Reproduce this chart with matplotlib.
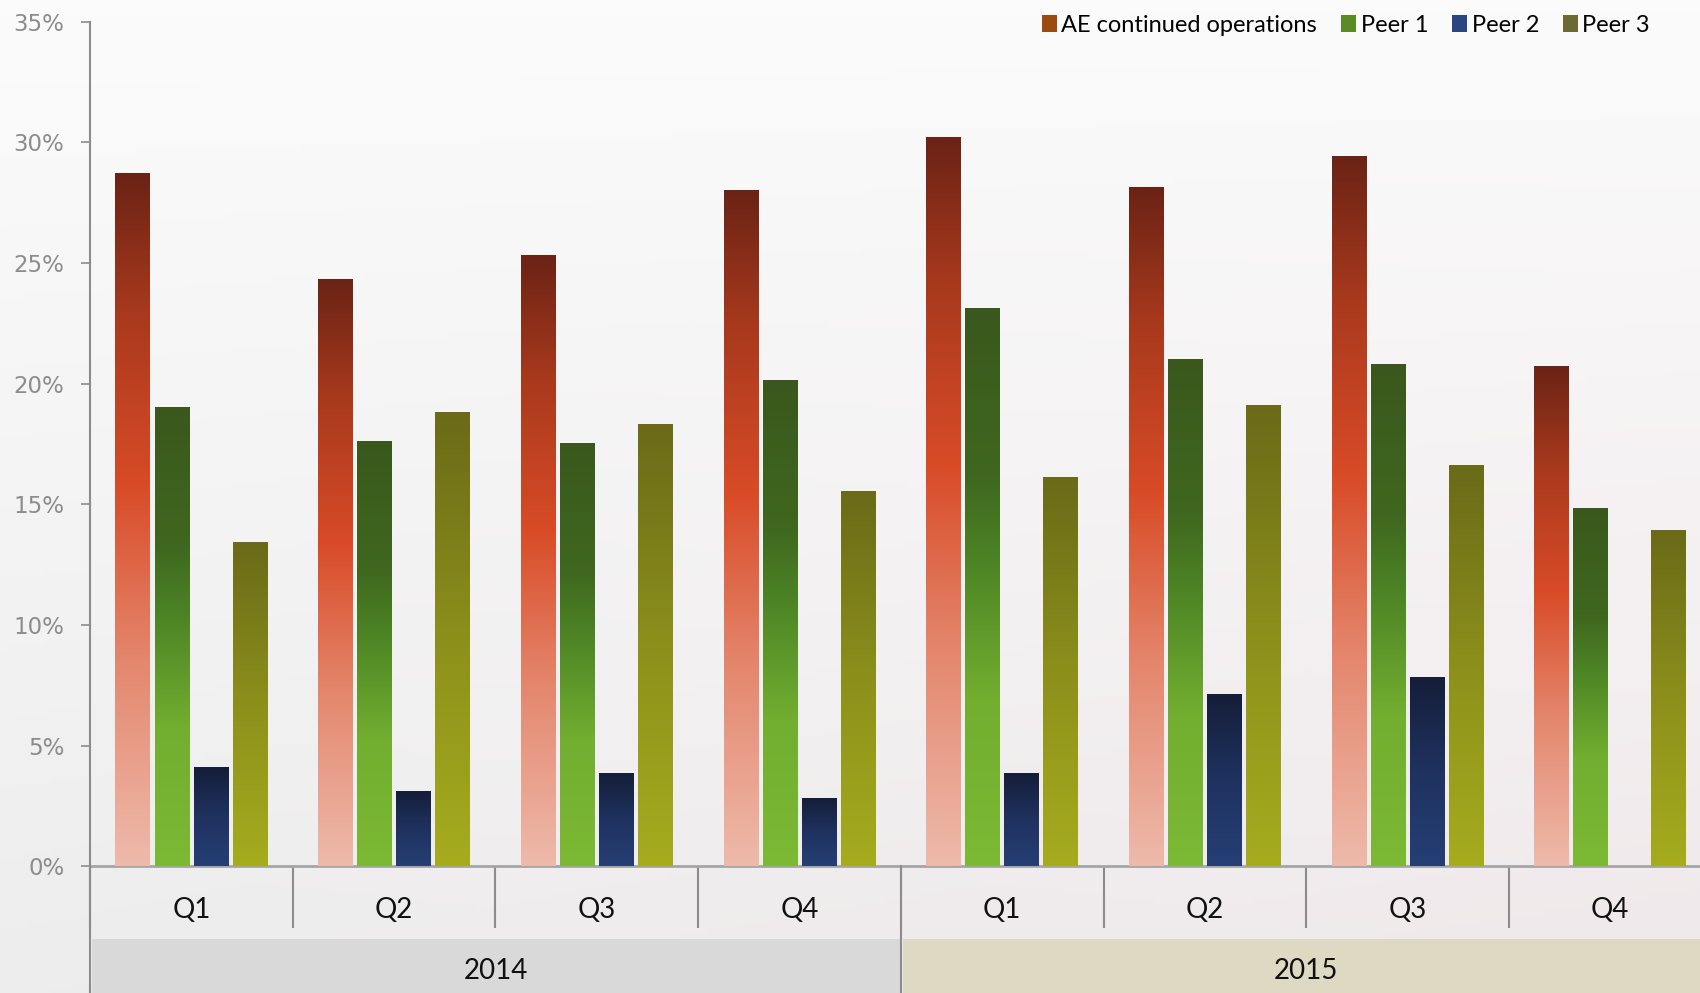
import numpy as np
import matplotlib
matplotlib.use("Agg")
import matplotlib.pyplot as plt
from matplotlib.colors import LinearSegmentedColormap
from matplotlib.patches import Patch, Rectangle

# data (percent)
years = ["2014", "2015"]
quarters = ["Q1", "Q2", "Q3", "Q4", "Q1", "Q2", "Q3", "Q4"]
series = ["AE continued operations", "Peer 1", "Peer 2", "Peer 3"]
ae = [28.7, 24.3, 25.3, 28.0, 30.2, 28.1, 29.4, 20.7]
peer1 = [19.0, 17.6, 17.5, 20.1, 23.1, 21.0, 20.8, 14.8]
peer2 = [4.1, 3.1, 3.85, 2.8, 3.85, 7.1, 7.8, -0.08]
peer3 = [13.4, 18.8, 18.3, 15.5, 16.1, 19.1, 16.6, 13.9]
values = [ae, peer1, peer2, peer3]

legend_colors = ["#9b4a12", "#5a8b24", "#2a4681", "#6b6a32"]
grad_stops = [
    [(0.0, "#eebaab"), (0.3, "#e4866c"), (0.55, "#d94b27"), (0.8, "#a8391d"), (1.0, "#6b2315")],
    [(0.0, "#7cb934"), (0.3, "#72ae30"), (0.55, "#4c8325"), (0.7, "#3f671f"), (1.0, "#3a581d")],
    [(0.0, "#253f74"), (0.5, "#1f3260"), (1.0, "#141e38")],
    [(0.0, "#a6ac1e"), (0.5, "#8c901b"), (1.0, "#6a6a18")],
]
cmaps = [LinearSegmentedColormap.from_list("g%d" % i, s) for i, s in enumerate(grad_stops)]

W, H = 1700, 993
fig = plt.figure(figsize=(W / 100, H / 100), dpi=100)

# background
bg = fig.add_axes([0, 0, 1, 1], zorder=-10)
yy, xx = np.mgrid[0:1:200j, 0:1:300j]
base = 0.985 - 0.055 * yy
img = np.dstack([base + 0.01 * xx * yy, base - 0.02 * xx * yy, base - 0.012 * xx * yy])
bg.imshow(np.clip(img, 0, 1), aspect="auto", extent=[0, 1, 0, 1])
bg.axis("off")

ax_left = 90 / W
ax_bottom = 1 - 866.3 / H
ax_top = 1 - 21.7 / H
ax_width = 8 * 202.7 / W
ax = fig.add_axes([ax_left, ax_bottom, ax_width, ax_top - ax_bottom])
ax.patch.set_alpha(0)

x = np.arange(len(quarters)) + 0.5
width = 0.171
step = 0.1925
offsets = (np.arange(len(series)) - 1.5) * step

for vals, cm, off in zip(values, cmaps, offsets):
    bars = ax.bar(x + off, vals, width, color="none", edgecolor="none", zorder=2)
    grad = np.linspace(0, 1, 256).reshape(-1, 1)
    for b in bars:
        x0, y0 = b.get_x(), b.get_y()
        x1, y1 = x0 + b.get_width(), y0 + b.get_height()
        ax.imshow(grad, cmap=cm, origin="lower", aspect="auto",
                  extent=[x0, x1, min(y0, y1), max(y0, y1)], zorder=4)

ax.set_xlim(0, 8)
ax.set_ylim(0, 35)

# y axis
ax.set_yticks(np.arange(0, 36, 5))
ax.set_yticklabels(["%d%%" % v for v in range(0, 36, 5)])
ax.tick_params(axis="y", length=6.5, width=1.2, color="#8c8c8c", pad=12,
               labelsize=16.5, labelcolor="#8c8c8c")
for s in ["top", "right", "left"]:
    ax.spines[s].set_visible(False)
ax.spines["bottom"].set_color("#a6a6a6")
ax.spines["bottom"].set_linewidth(2)
ax.axvline(0, ymin=-0.2, ymax=1, color="#8c8c8c", lw=1.5, clip_on=False, zorder=3)
ax.axvline(4, ymin=-0.2, ymax=0, color="#8c8c8c", lw=1.5, clip_on=False, zorder=3)

# x axis: quarters
ax.set_xticks(x)
ax.set_xticklabels(quarters, fontfamily="Lato", fontsize=20, color="#111111")
ax.tick_params(axis="x", which="major", length=0, pad=31.5)
for lab in ax.get_xticklabels():
    lab.set_verticalalignment("center")
ax.set_xticks(np.arange(0, 9), minor=True)
ax.tick_params(axis="x", which="minor", length=44.6, width=1.5, color="#8c8c8c")

# year bands
ph = 844.6
band_top = -(939 - 866.3) / ph
trans = ax.get_xaxis_transform()
band_spans = [(0.01, 3.995), (4.012, 8.0)]
band_colors = ["#d9d9d9", "#ddd9c3"]
for yr, (b0, b1), c in zip(years, band_spans, band_colors):
    ax.add_patch(Rectangle((b0, band_top), b1 - b0, -0.2, transform=trans,
                           facecolor=c, edgecolor="none", clip_on=False, zorder=1))
    ax.text((b0 + b1) / 2 if b1 < 8 else 6.0, -(971 - 866.3) / ph, yr, transform=trans,
            ha="center", va="center", fontfamily="Lato", fontsize=20, color="#111111")

# legend
handles = [Patch(facecolor=c, edgecolor="none", label=s) for c, s in zip(legend_colors, series)]
fig.legend(handles=handles, loc="center right", bbox_to_anchor=(1650 / W, 1 - 25 / H),
           ncol=4, frameon=False, prop={"family": "Lato", "size": 17},
           handlelength=0.64, handleheight=0.75, handletextpad=0.2,
           columnspacing=1.0, borderpad=0, borderaxespad=0)

fig.savefig("out.png", dpi=100)
